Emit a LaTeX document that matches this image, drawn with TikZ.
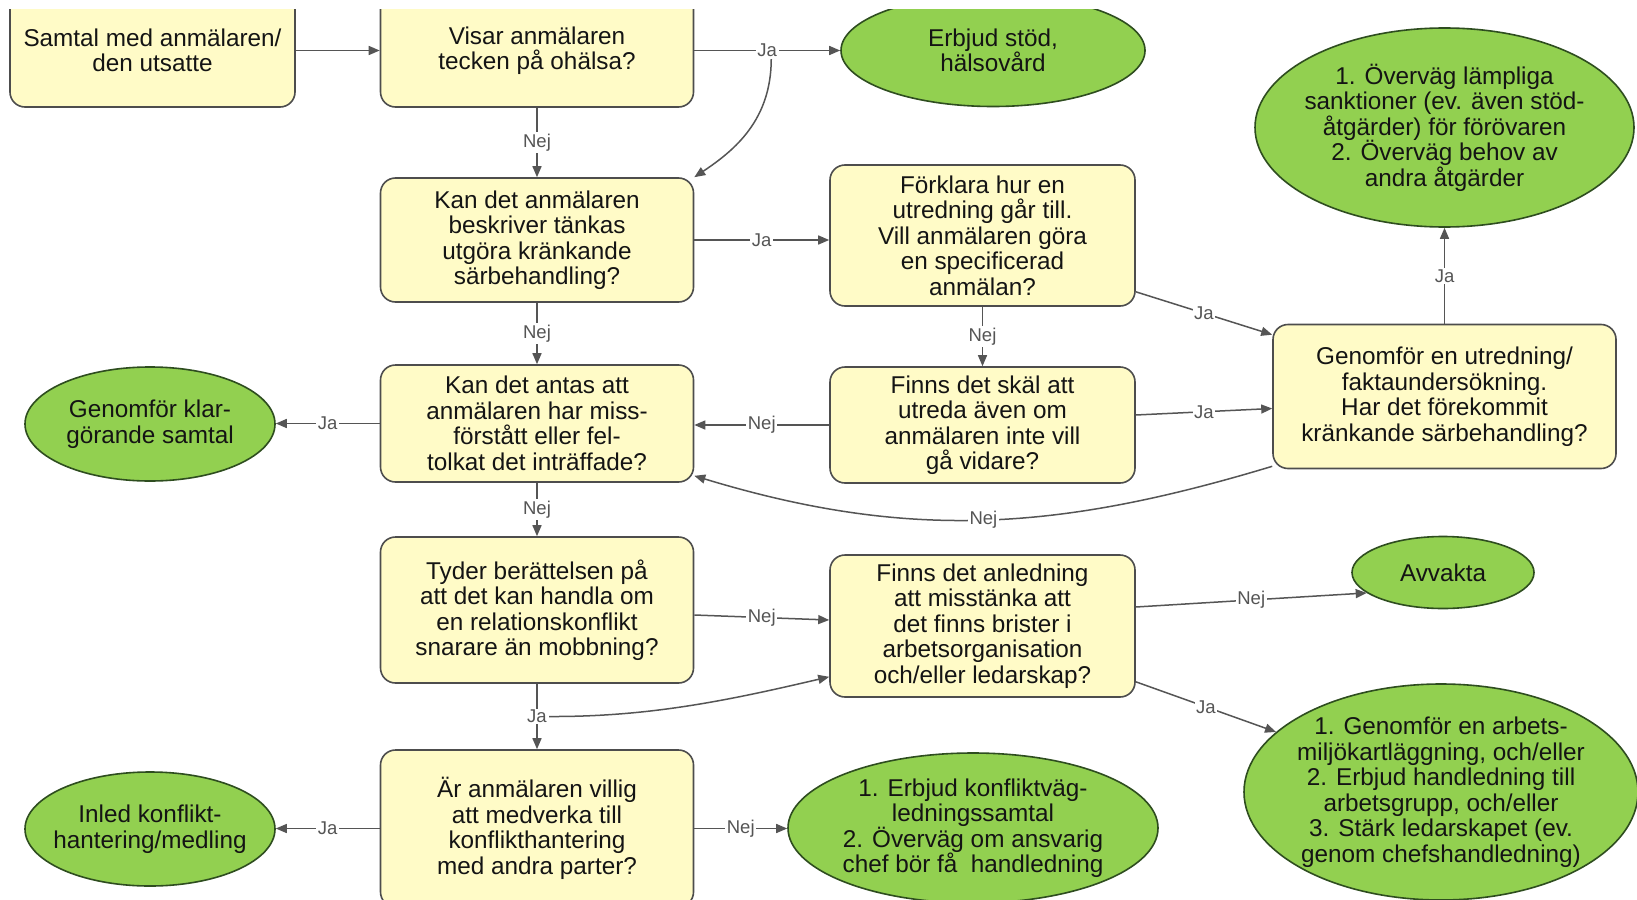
\documentclass[tikz,border=0pt]{standalone}
\usepackage{fontspec}
\setmainfont{Liberation Sans}
\usetikzlibrary{shapes.geometric,arrows.meta}
\definecolor{boxfill}{HTML}{FFFBC7}
\definecolor{boxline}{HTML}{4D4D4D}
\definecolor{ellfill}{HTML}{92D050}
\definecolor{ellline}{HTML}{2E4D1F}
\definecolor{conncol}{HTML}{555555}
\definecolor{txtcol}{HTML}{141414}
\definecolor{lblcol}{HTML}{555555}
\newcommand\bxf{\fontsize{24.3}{25.5}\selectfont}
\newcommand\lbf{\fontsize{18.5}{20}\selectfont}
\begin{document}
\begin{tikzpicture}[x=1pt,y=-1pt,
  box/.style={draw=boxline, fill=boxfill, line width=1.6pt, rounded corners=15pt, inner sep=0pt, align=center, font=\bxf, text=txtcol},
  ell/.style={ellipse, draw=ellline, fill=ellfill, line width=1.6pt, inner sep=0pt},
  etext/.style={inner sep=0pt, align=center, font=\bxf, text=txtcol},
  arr/.style={draw=conncol, line width=1.5pt, -{Triangle[length=11pt,width=9pt]}},
  lbl/.style={fill=white, inner sep=1.5pt, font=\lbf, text=lblcol}]
\useasboundingbox (0,0) rectangle (1637,899);
\fill[white] (0,0) rectangle (1637,899);
\begin{scope}
\clip (0,10) rectangle (1637,899);
% boxes
\node[box, minimum width=285pt, minimum height=113pt] (samtal) at (152.5,50.5) {Samtal med anmälaren/\\den utsatte};
\node[box, minimum width=313pt, minimum height=113pt] (visar) at (537,50.5) {Visar anmälaren\\tecken på ohälsa?};
\node[box, minimum width=313pt, minimum height=124pt] (kan1) at (537,240) {Kan det anmälaren\\beskriver tänkas\\utgöra kränkande\\särbehandling?};
\node[box, minimum width=305pt, minimum height=141pt] (forkl) at (982.5,235.5) {Förklara hur en\\utredning går till.\\Vill anmälaren göra\\en specificerad\\anmälan?};
\node[box, minimum width=313pt, minimum height=117pt] (antas) at (537,423.5) {Kan det antas att\\anmälaren har miss-\\förstått eller fel-\\tolkat det inträffade?};
\node[box, minimum width=305pt, minimum height=116pt] (skal) at (982.5,425) {Finns det skäl att\\utreda även om\\anmälaren inte vill\\gå vidare?};
\node[box, minimum width=343pt, minimum height=144pt] (utred) at (1444.5,396.5) {Genomför en utredning/\\faktaundersökning.\\Har det förekommit\\kränkande särbehandling?};
\node[box, minimum width=313pt, minimum height=146pt] (tyder) at (537,610) {Tyder berättelsen på\\att det kan handla om\\en relationskonflikt\\snarare än mobbning?};
\node[box, minimum width=305pt, minimum height=142pt] (anled) at (982.5,626) {Finns det anledning\\att misstänka att\\det finns brister i\\arbetsorganisation\\och/eller ledarskap?};
\node[box, minimum width=313pt, minimum height=157pt] (are) at (537,828.5) {Är anmälaren villig\\att medverka till\\konflikthantering\\med andra parter?};
% ellipses
\node[ell, minimum width=304pt, minimum height=112pt] (erbjud) at (993,50.5) {};
\node[etext] (erbjudT) at (erbjud) {Erbjud stöd,\\hälsovård};
\node[ell, minimum width=379pt, minimum height=199pt] (overv) at (1444.5,127.5) {};
\node[etext] (overvT) at (overv) {1. Överväg lämpliga\\sanktioner (ev. även stöd-\\åtgärder) för förövaren\\2. Överväg behov av\\andra åtgärder};
\node[ell, minimum width=250pt, minimum height=114pt] (klar) at (150,424) {};
\node[etext] (klarT) at (klar) {Genomför klar-\\görande samtal};
\node[ell, minimum width=182pt, minimum height=72pt] (avv) at (1443,572.5) {};
\node[etext] (avvT) at (avv) {Avvakta};
\node[ell, minimum width=394pt, minimum height=216pt] (arb) at (1441,792) {};
\node[etext] (arbT) at (arb) {1. Genomför en arbets-\\miljökartläggning, och/eller\\2. Erbjud handledning till\\arbetsgrupp, och/eller\\3. Stärk ledarskapet (ev.\\genom chefshandledning)};
\node[ell, minimum width=250pt, minimum height=114pt] (inled) at (150,829) {};
\node[etext] (inledT) at (inled) {Inled konflikt-\\hantering/medling};
\node[ell, minimum width=370pt, minimum height=150pt] (erbk) at (973,828) {};
\node[etext] (erbkT) at (erbk) {1. Erbjud konfliktväg-\\ledningssamtal\\2. Överväg om ansvarig\\chef bör få\ \ handledning};
% connectors
\draw[arr] (samtal.east) -- (visar.west);
\draw[arr] (visar.east) -- node[lbl] (ja1) {Ja} (erbjud.west);
\draw[arr] ([xshift=4pt]ja1.south) .. controls (771,120) and (735,150) .. (kan1.north east);
\draw[arr] (visar) -- node[lbl] {Nej} (kan1);
\draw[arr] (kan1.east) -- node[lbl] {Ja} (kan1.east -| forkl.west);
\draw[arr] (kan1) -- node[lbl] {Nej} (antas);
\draw[arr] (forkl) -- node[lbl] {Nej} (skal);
\draw[arr] ([yshift=15pt]forkl.south east) -- node[lbl] {Ja} ([yshift=-11pt]utred.north west);
\draw[arr] ([yshift=10pt]skal.east) -- node[lbl] {Ja} ([yshift=-12pt]utred.west);
\draw[arr] (skal.west) -- node[lbl] {Nej} (skal.west -| antas.east);
\draw[arr] (utred.north) -- node[lbl] {Ja} (overv.south);
\draw[arr] ([yshift=3pt]utred.south west) .. controls (1058,531) and (909,541) .. node[lbl] {Nej} ([yshift=7pt]antas.south east);
\draw[arr] (antas.west) -- node[lbl] {Ja} (antas.west -| klar.east);
\draw[arr] (antas) -- node[lbl] {Nej} (tyder);
\draw[arr] ([yshift=-5pt]tyder.east) -- node[lbl] {Nej} ([yshift=6pt]anled.west);
\draw[arr] ([yshift=19pt]anled.east) -- node[lbl] {Nej} (avv.195);
\draw[arr] ([yshift=16pt]anled.south east) -- node[lbl] {Ja} (arb.160);
\draw[arr] (tyder) -- node[lbl] (jaP) {Ja} (are);
\draw[arr] (jaP.east) .. controls (650,717) and (730,700) .. ([yshift=21pt]anled.south west);
\draw[arr] (are.west) -- node[lbl] {Ja} (are.west -| inled.east);
\draw[arr] (are.east) -- node[lbl] {Nej} (are.east -| erbk.west);
\end{scope}
\end{tikzpicture}
\end{document}
